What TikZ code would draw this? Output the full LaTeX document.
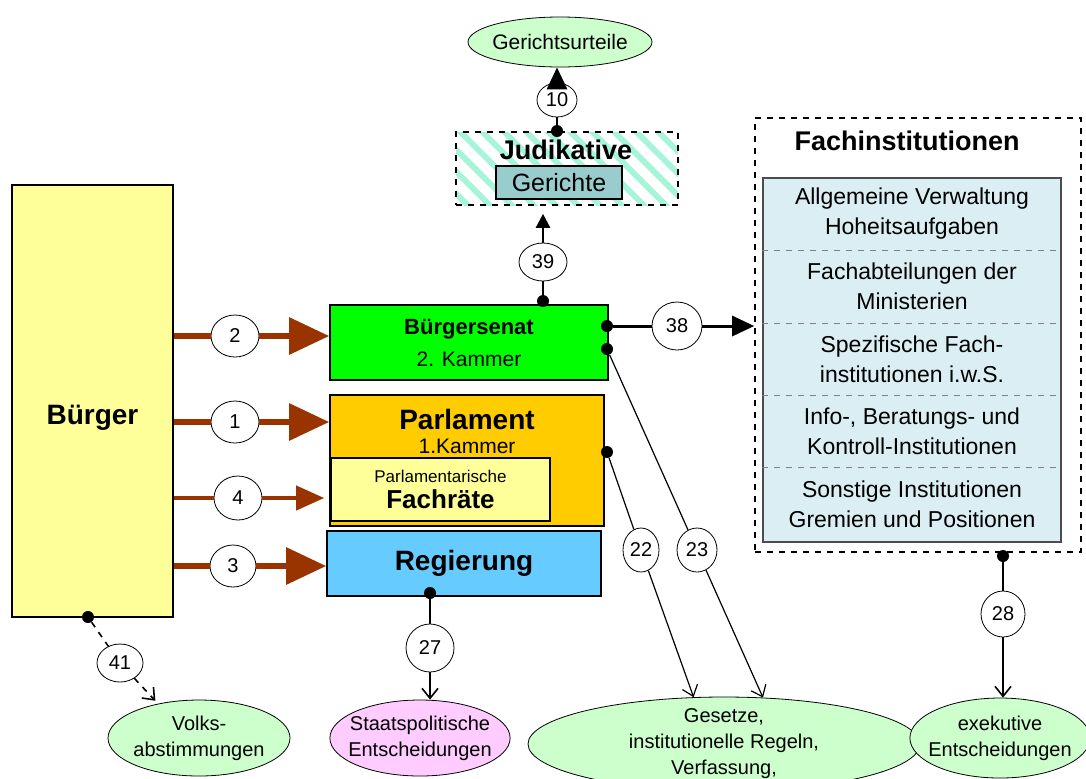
\documentclass[tikz,border=0pt]{standalone}
\usepackage{fontspec}
\setmainfont{Liberation Sans}
\usepackage{xcolor}
\usetikzlibrary{arrows.meta,shapes,positioning}

\definecolor{buergergelb}{HTML}{FFFF99}
\definecolor{senatgruen}{HTML}{00FF00}
\definecolor{parlorange}{HTML}{FFCC00}
\definecolor{regblau}{HTML}{66CCFF}
\definecolor{gerichtgrau}{HTML}{99CCCC}
\definecolor{schraffur}{HTML}{A6F5D8}
\definecolor{fachblau}{HTML}{DAEEF3}
\definecolor{ovalgruen}{HTML}{CCFFCC}
\definecolor{ovalrosa}{HTML}{FFCCFF}
\definecolor{pfeilbraun}{HTML}{993300}

\begin{document}
\begin{tikzpicture}[x=0.5pt, y=-0.5pt,
    box/.style={draw, line width=0.8pt, inner sep=0pt, align=center},
    oval/.style={draw, ellipse, fill=ovalgruen, inner xsep=-4pt, inner ysep=0pt, align=center, font=\fontsize{10}{13}\selectfont},
    num/.style={draw, ellipse, fill=white, inner sep=0pt, minimum width=24pt, minimum height=21pt, font=\fontsize{10}{12}\selectfont},
    punkt/.style={circle, fill=black, inner sep=0pt, minimum size=6pt},
    braun/.style={draw=pfeilbraun, line width=3pt},
    braunpfeil/.style={braun, -{Triangle[length=20pt,width=18pt]}},
    offen/.style={line width=0.6pt, -{Straight Barb[length=5pt,width=8pt]}},
    zeile/.style={align=center, font=\fontsize{11.5}{15}\selectfont}]
    \clip (0,0) rectangle (1086,778);

    % Buerger and the organs
    \node[box, fill=buergergelb, minimum width=80.5pt, minimum height=216pt, text height=26pt, text depth=3pt, font=\bfseries\fontsize{14}{16}\selectfont] (buerger) at (92.5,401) {Bürger};
    \node[box, fill=senatgruen, minimum width=139pt, minimum height=37.5pt] (senat) at (469,342.5) {\bfseries\fontsize{11}{13}\selectfont Bürgersenat\\[4pt]\normalfont\fontsize{10.5}{13}\selectfont 2. Kammer};
    \node[box, fill=parlorange, minimum width=137pt, minimum height=65.5pt] (parl) at (467,460.5) {};
    \node[align=center] (parltext) at (467,431) {\bfseries\fontsize{14}{15}\selectfont Parlament\\\normalfont\fontsize{10.5}{15}\selectfont 1.Kammer};
    \node[box, fill=buergergelb, minimum width=109.5pt, minimum height=31.5pt] (fachraete) at (440.5,489.5) {\fontsize{8.5}{13}\selectfont Parlamentarische\\[1pt]\bfseries\fontsize{13}{16}\selectfont Fachräte};
    \node[box, fill=regblau, minimum width=137pt, minimum height=32.5pt, font=\bfseries\fontsize{14}{16}\selectfont] (reg) at (464,563.5) {Regierung};

    % Judikative (hatched)
    \node[box, dashed, minimum width=111pt, minimum height=36.5pt,
        path picture={\foreach \x in {-240,-218,...,200}
            \draw[solid, schraffur, line width=3pt] (\x,-60) -- ++(120,120);}] (jud) at (567,168.5) {};
    \node[font=\bfseries\fontsize{13.5}{16}\selectfont] (judtext) at (566,150) {Judikative};
    \node[box, fill=gerichtgrau, minimum width=63pt, minimum height=16.5pt, font=\fontsize{12.5}{15}\selectfont] (gericht) at (559,182.5) {Gerichte};
    \node[oval, minimum width=92pt, minimum height=25pt, font=\fontsize{10.5}{13}\selectfont] (urteil) at (560,42) {Gerichtsurteile};

    % Fachinstitutionen
    \node[box, dashed, minimum width=163pt, minimum height=217pt] (fachrahmen) at (918,335) {};
    \node[font=\bfseries\fontsize{13.5}{16}\selectfont] (fachtitel) at (907,141) {Fachinstitutionen};
    \node[box, draw=black!70, fill=fachblau, minimum width=149pt, minimum height=182pt] (fachbox) at (912,360) {};
    \foreach \y in {250,323,395,467}
        \draw[dashed, black!50] (fachbox.west |- 0,\y) -- (fachbox.east |- 0,\y);
    \foreach \y/\txt [count=\i] in {214/{Allgemeine Verwaltung\\Hoheitsaufgaben},
            286/{Fachabteilungen der\\Ministerien}, 359/{Spezifische Fach-\\institutionen i.w.S.},
            431/{Info-, Beratungs- und\\Kontroll-Institutionen}, 504/{Sonstige Institutionen\\Gremien und Positionen}}
        \node[zeile] (zeile\i) at (912,\y) {\txt};

    % Ergebnisse
    \node[oval, minimum width=91pt, minimum height=38pt] (volks) at (199,738) {Volks-\\abstimmungen};
    \node[oval, fill=ovalrosa, minimum width=85pt, minimum height=38pt] (staats) at (420,738) {Staatspolitische\\Entscheidungen};
    \node[oval, inner ysep=-3pt, minimum width=196pt, minimum height=47pt] (gesetze) at (724,744) {Gesetze,\\institutionelle Regeln,\\Verfassung,};
    \node[oval, minimum width=84pt, minimum height=40pt] (exek) at (1000,738) {exekutive\\Entscheidungen};

    % brown arrows from Buerger
    \node[num] (n2) at (235,336) {2};
    \node[num] (n1) at (235,422) {1};
    \node[num, minimum height=22pt] (n4) at (238,498) {4};
    \node[num, minimum width=23pt] (n3) at (233,566) {3};
    \draw[braun] (buerger.east |- n2) -- (n2);
    \draw[braunpfeil] (n2) -- (senat.west |- n2);
    \draw[braun] (buerger.east |- n1) -- (n1);
    \draw[braunpfeil] (n1) -- (parl.west |- n1);
    \draw[braun, line width=2pt] (buerger.east |- n4) -- (n4);
    \draw[braun, line width=2pt, -{Triangle[length=14pt,width=12pt]}, shorten >=3pt] (n4) -- (fachraete.west |- n4);
    \draw[braun] (buerger.east |- n3) -- (n3);
    \draw[braunpfeil] (n3) -- (reg.west |- n3);

    % dots and black connectors
    \node[punkt] (p10) at (557,131) {};
    \node[num, minimum width=20pt, minimum height=17pt] (n10) at (557,100) {10};
    \draw[line width=1.2pt] (p10) -- (n10);
    \draw[line width=1.5pt, -{Triangle[length=11pt,width=10pt]}] (n10) -- (n10 |- urteil.south);

    \node[punkt] (p39) at (543,301) {};
    \node[num, minimum height=19pt] (n39) at (543,262) {39};
    \draw[line width=1.2pt] (p39) -- (n39);
    \draw[line width=1.2pt, -{Triangle[length=7pt,width=7pt]}, shorten >=4pt] (n39) -- (n39 |- jud.south);

    \node[punkt] (p38) at (607,326) {};
    \node[num, minimum width=25pt, minimum height=24pt] (n38) at (677,326) {38};
    \draw[line width=1.5pt] (p38) -- (n38);
    \draw[line width=1.5pt, -{Triangle[length=11pt,width=10pt]}] (n38) -- (fachrahmen.west |- n38);

    \node[punkt] (p23) at (607,349) {};
    \node[num, minimum width=20pt, minimum height=22pt] (n23) at (697,550) {23};
    \draw[line width=0.6pt] (p23) -- (n23);
    \draw[offen] (n23) -- (gesetze.50);

    \node[punkt] (p22) at (607,452) {};
    \node[num, minimum width=18pt, minimum height=22pt] (n22) at (641,550) {22};
    \draw[line width=0.6pt] (p22) -- (n22);
    \draw[offen] (n22) -- (gesetze.123);

    \node[punkt] (p27) at (430,593) {};
    \node[num, minimum height=24pt] (n27) at (430,648) {27};
    \draw[line width=0.8pt] (p27) -- (n27);
    \draw[offen, line width=0.8pt] (n27) -- (n27 |- staats.north);

    \node[punkt] (p41) at (88,617) {};
    \node[num, minimum width=23pt, minimum height=19pt] (n41) at (120,663) {41};
    \draw[dashed, line width=0.8pt] (p41) -- (n41);
    \draw[offen, dashed, line width=0.8pt, shorten >=2pt] (n41) -- (volks.140);

    \node[punkt] (p28) at (1003,556) {};
    \node[num, minimum width=22pt, minimum height=23pt] (n28) at (1003,614) {28};
    \draw[line width=0.8pt] (p28) -- (n28);
    \draw[offen, line width=0.8pt] (n28) -- (n28 |- exek.north);
\end{tikzpicture}
\end{document}
